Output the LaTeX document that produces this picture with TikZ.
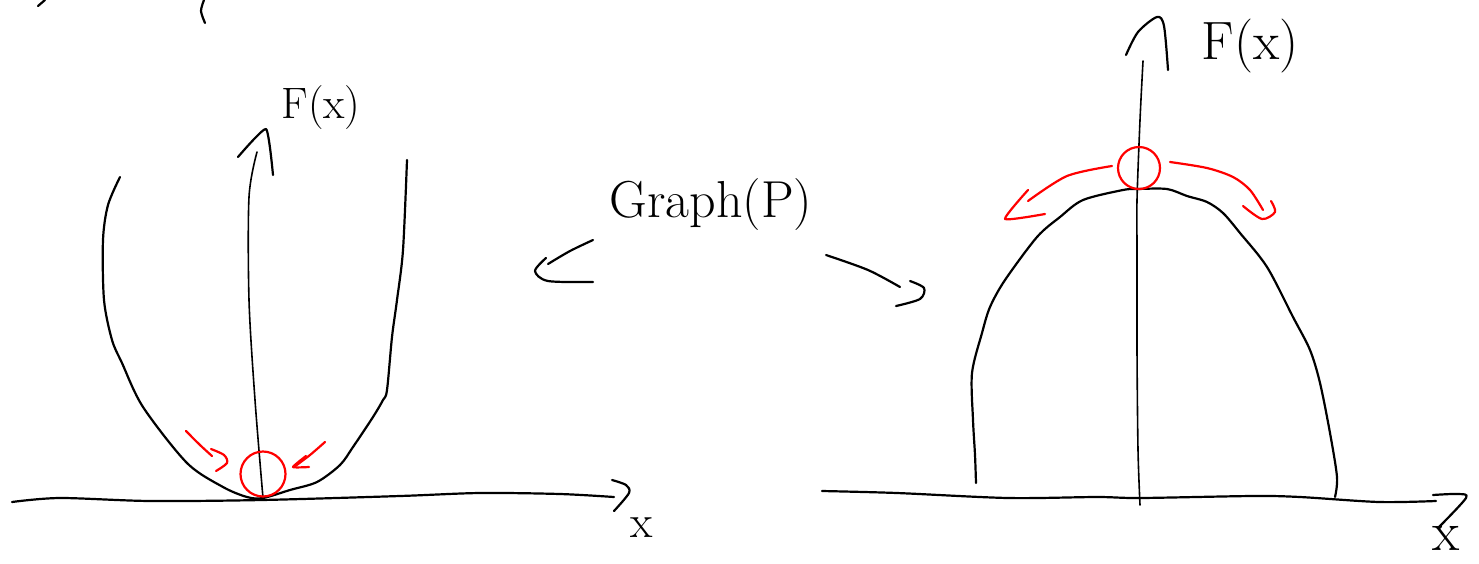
\documentclass[tikz,border=0pt]{standalone}
\begin{document}
\begin{tikzpicture}[x=1pt,y=-1pt,
  ink/.style={draw=black,line width=2.2pt,line cap=round,line join=round},
  thin ink/.style={draw=black,line width=1.6pt,line cap=round,line join=round},
  redink/.style={draw=red,line width=2.2pt,line cap=round,line join=round},
  lbl/.style={inner sep=0pt,text=black}]
\useasboundingbox[fill=white] (0,0) rectangle (1479,563);

% top-left cut-off fragments
\draw[ink] (38,6) -- (45,0);
\draw[ink] plot[smooth] coordinates {(204,0) (201,11) (205,23)};

% ---------- left graph ----------
% x axis
\draw[ink] plot[smooth] coordinates {(12,502) (60,498) (150,501) (262,500) (400,496) (480,493) (560,494) (614,497)};
\draw[ink] plot[smooth] coordinates {(612,480) (626,485) (629,493) (614,511)};
\node[lbl,font=\fontsize{46}{46}\selectfont] (xl) at (642,528) {x};
% y axis
\draw[thin ink] plot[smooth] coordinates {(263,498) (255,400) (249,300) (249,197) (257,152)};
\draw[ink] plot[smooth,tension=0.3] coordinates {(238,157) (266,129) (273,175)};
\node[lbl,font=\fontsize{44}{44}\selectfont] (fl) at (321,108) {F(x)};
% parabola
\draw[ink] plot[smooth] coordinates {(120,177) (108,205) (103,240) (104,300) (112,340) (122,363) (143,407) (187,463) (223,487) (247,497) (263,498) (290,490) (317,482) (340,465) (353,447) (373,417) (383,400) (387,390) (392,337) (397,300) (403,250) (407,160)};
% red ball and arrows
\node[circle,draw=red,line width=2.2pt,minimum size=45pt,inner sep=0pt] (bl) at (263,474) {};
\draw[redink] plot[smooth] coordinates {(186,431) (200,445) (212,456)};
\draw[redink] plot[smooth] coordinates {(211,449) (224,455) (227,463) (216,471)};
\draw[redink] plot[smooth] coordinates {(325,442) (310,455) (294,467)};
\draw[redink] plot[smooth,tension=0.3] coordinates {(306,456) (293,467) (309,467)};

% ---------- middle ----------
\node[lbl,font=\fontsize{52}{52}\selectfont] (gp) at (711,205) {Graph(P)};
\draw[ink] plot[smooth] coordinates {(593,240) (570,251) (548,264)};
\draw[ink] plot[smooth] coordinates {(546,258) (535,271) (548,281) (593,282)};
\draw[ink] plot[smooth] coordinates {(826,255) (868,270) (900,287)};
\draw[ink] plot[smooth] coordinates {(910,281) (924,288) (920,299) (896,306)};

% ---------- right graph ----------
% x axis
\draw[ink] plot[smooth] coordinates {(822,491) (897,493) (1008,498) (1097,497) (1140,498) (1253,496) (1300,497) (1379,502) (1436,501)};
\draw[ink] plot[smooth] coordinates {(1433,495) (1458,494) (1466,498) (1438,528)};
\node[lbl,font=\fontsize{56}{56}\selectfont] (xr) at (1446,538) {x};
% y axis
\draw[thin ink] plot[smooth] coordinates {(1140,505) (1138,450) (1137,350) (1137,250) (1137,200) (1140,120) (1143,61)};
\draw[ink] plot[smooth] coordinates {(1126,55) (1138,32) (1157,17) (1164,26) (1168,70)};
\node[lbl,font=\fontsize{54}{54}\selectfont] (fr) at (1250,46) {F(x)};
% arch
\draw[ink] plot[smooth] coordinates {(976,483) (975,455) (973,420) (972,373) (982,333) (990,307) (1005,280) (1037,237) (1060,217) (1083,200) (1123,190) (1138,189) (1167,189) (1187,196) (1207,202) (1223,213) (1240,233) (1267,267) (1293,317) (1310,350) (1320,383) (1330,433) (1337,477) (1335,497)};
% red ball and arrows
\node[circle,draw=red,line width=2.2pt,minimum size=42pt,inner sep=0pt] (br) at (1139,168) {};
\draw[redink] plot[smooth] coordinates {(1112,166) (1067,176) (1028,201)};
\draw[redink] plot[smooth,tension=0.3] coordinates {(1028,190) (1005,219) (1045,214)};
\draw[redink] plot[smooth] coordinates {(1170,162) (1207,168) (1233,177) (1250,190) (1263,210)};
\draw[redink] plot[smooth] coordinates {(1243,206) (1262,219) (1275,212) (1271,201)};
\end{tikzpicture}
\end{document}
